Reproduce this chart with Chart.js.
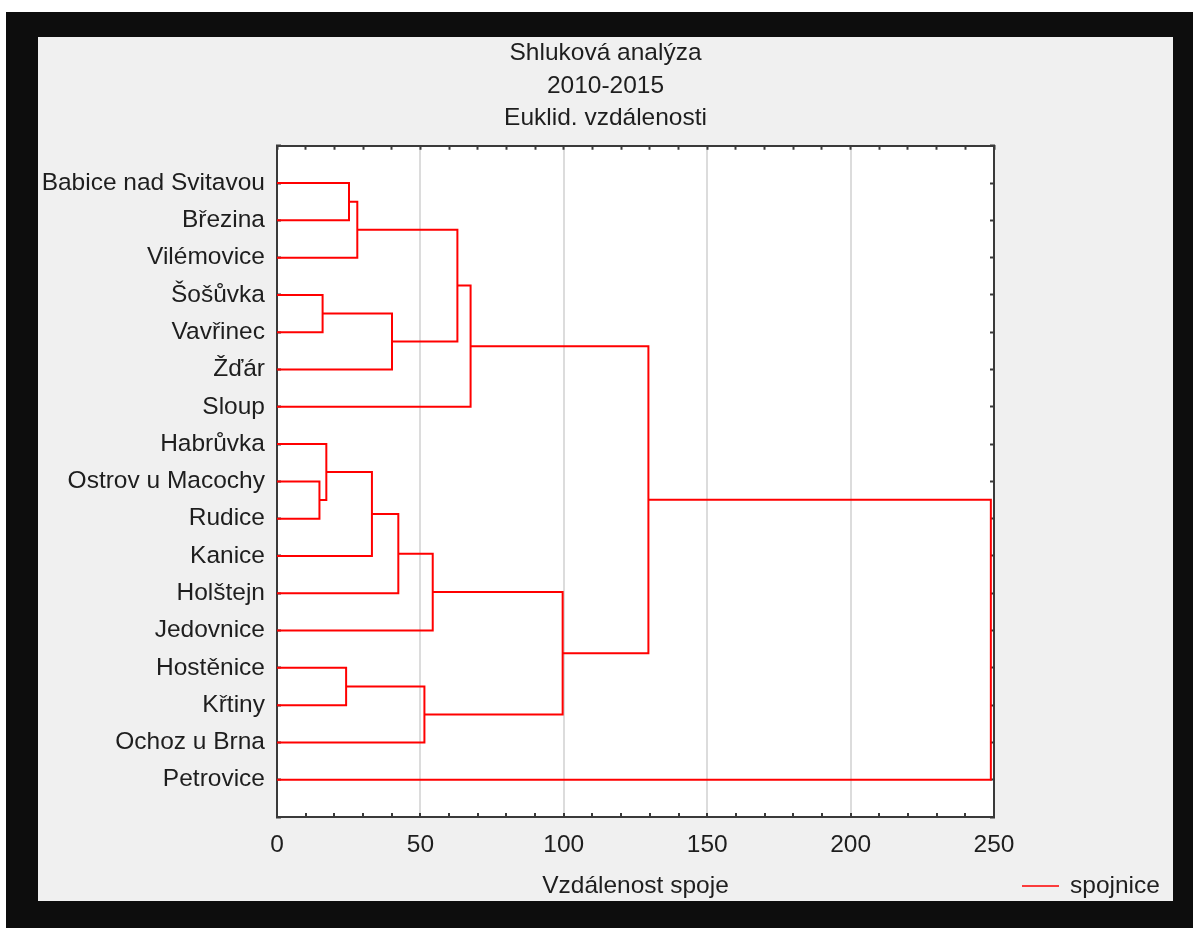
<!DOCTYPE html>
<html>
<head>
    <title>Shluková analýza 2010-2015</title>
    <script src="https://cdn.jsdelivr.net/npm/chart.js@4.4.1/dist/chart.umd.min.js" type="text/javascript"></script>
    <style>
        body {
            margin: 0;
            background-color: white;
            font-family: "Liberation Sans", Arial, sans-serif;
        }
        #frame {
            position: absolute;
            left: 6px;
            top: 12px;
            width: 1187px;
            height: 916px;
            background-color: #0d0d0d;
        }
        #panel {
            position: absolute;
            left: 32px;
            top: 25px;
            width: 1135px;
            height: 864px;
            background-color: #f0f0f0;
        }
    </style>
</head>
<body>
    <div id="frame">
        <div id="panel">
            <canvas id="dendrogram"></canvas>
        </div>
    </div>
<script>
    // leaves, top to bottom, as they stand on the y axis
    const leafNames = ['Babice nad Svitavou', 'Březina', 'Vilémovice', 'Šošůvka', 'Vavřinec', 'Žďár', 'Sloup',
        'Habrůvka', 'Ostrov u Macochy', 'Rudice', 'Kanice', 'Holštejn', 'Jedovnice', 'Hostěnice', 'Křtiny',
        'Ochoz u Brna', 'Petrovice'];
    // merges in order; index < 17 is a leaf, 17 + k is the cluster made by merge k
    const mergeA = [8, 3, 7, 13, 0, 21, 19, 18, 23, 20, 25, 22, 28, 27, 29, 31];
    const mergeB = [9, 4, 17, 14, 1, 2, 10, 5, 11, 15, 12, 24, 6, 26, 30, 16];
    const mergeDist = [14.8, 15.9, 17.2, 24.1, 25.1, 28.0, 33.1, 40.1, 42.3, 51.4, 54.3, 62.9, 67.5, 99.6, 129.5, 248.9];
    const titleLines = ['Shluková analýza', '2010-2015', 'Euklid. vzdálenosti'];
    const xTitle = 'Vzdálenost spoje';
    const xMax = 250;

    const textColor = '#1e1e1e';
    const axisColor = '#3a3a3a';
    const font = {family: "'Liberation Sans', Arial, sans-serif", size: 24.5};

    // build the link lines of the dendrogram
    var nodeY = leafNames.map((name, i) => i + 1);
    var nodeH = leafNames.map(() => 0);
    var links = [];
    for (var k = 0; k < mergeDist.length; k++) {
        var a = mergeA[k], b = mergeB[k], d = mergeDist[k];
        links.push({x: nodeH[a], y: nodeY[a]});
        links.push({x: d, y: nodeY[a]});
        links.push({x: d, y: nodeY[b]});
        links.push({x: nodeH[b], y: nodeY[b]});
        links.push({x: d, y: null});
        nodeY.push((nodeY[a] + nodeY[b]) / 2);
        nodeH.push(d);
    }

    const plotBackground = {
        id: 'plotBackground',
        beforeDraw(chart) {
            const area = chart.chartArea;
            chart.ctx.save();
            chart.ctx.fillStyle = 'white';
            chart.ctx.fillRect(area.left, area.top, area.right - area.left, area.bottom - area.top);
            chart.ctx.restore();
        }
    };

    // legend sits on the same row as the x axis title
    const sideLegend = {
        id: 'sideLegend',
        afterDraw(chart) {
            const ds = chart.data.datasets[0];
            const ctx = chart.ctx;
            const y = chart.scales.x.bottom - 15;
            const x0 = chart.width - 151;
            ctx.save();
            ctx.strokeStyle = ds.borderColor;
            ctx.lineWidth = 1.5;
            ctx.beginPath();
            ctx.moveTo(x0, y);
            ctx.lineTo(x0 + 37, y);
            ctx.stroke();
            ctx.fillStyle = textColor;
            ctx.font = font.size + 'px ' + font.family;
            ctx.textBaseline = 'middle';
            ctx.fillText(ds.label, x0 + 48, y);
            ctx.restore();
        }
    };

    const dctx = document.getElementById('dendrogram');
    const dchart = new Chart(dctx, {
        type: 'scatter',
        data: {
            datasets: [{
                label: 'spojnice',
                data: links,
                showLine: true,
                spanGaps: false,
                borderColor: '#ff0000',
                backgroundColor: '#ff0000',
                borderWidth: 2,
                pointRadius: 0,
                tension: 0,
                borderJoinStyle: 'miter'
            }]
        },
        options: {
            responsive: true,
            maintainAspectRatio: false,
            animation: false,
            layout: {
                padding: 0
            },
            plugins: {
                legend: {display: false},
                tooltip: {enabled: false},
                title: {
                    display: true,
                    text: titleLines,
                    color: textColor,
                    font: {family: font.family, size: font.size, weight: 'normal', lineHeight: 1.33},
                    padding: {top: 0, bottom: 11}
                }
            },
            scales: {
                x: {
                    type: 'linear',
                    position: 'bottom',
                    min: 0,
                    max: xMax,
                    border: {color: axisColor, width: 2},
                    grid: {
                        color: (c) => (c.tick && c.tick.value % 50 === 0) ? '#dcdcdc' : 'transparent',
                        lineWidth: 2,
                        tickColor: axisColor,
                        tickWidth: 2,
                        tickLength: -4
                    },
                    ticks: {
                        stepSize: 10,
                        autoSkip: false,
                        maxRotation: 0,
                        minRotation: 0,
                        padding: 18,
                        color: textColor,
                        font: font,
                        callback: (v) => v % 50 === 0 ? String(v) : ''
                    },
                    title: {
                        display: true,
                        text: xTitle,
                        color: textColor,
                        font: font,
                        padding: {top: 13, bottom: 0}
                    },
                    afterFit: (s) => { s.height = 84; }
                },
                x2: {
                    type: 'linear',
                    position: 'top',
                    min: 0,
                    max: xMax,
                    border: {color: axisColor, width: 2},
                    grid: {drawOnChartArea: false, tickColor: axisColor, tickWidth: 2, tickLength: -4},
                    ticks: {stepSize: 10, autoSkip: false, display: false},
                    afterFit: (s) => { s.height = 0; }
                },
                y: {
                    type: 'linear',
                    position: 'left',
                    min: 0,
                    max: leafNames.length + 1,
                    reverse: true,
                    border: {color: axisColor, width: 2},
                    grid: {color: 'transparent', tickColor: axisColor, tickWidth: 2, tickLength: -4},
                    ticks: {
                        stepSize: 1,
                        autoSkip: false,
                        padding: 16,
                        color: textColor,
                        font: font,
                        callback: (v) => leafNames[Math.round(v) - 1] || ''
                    },
                    afterFit: (s) => { s.width = 239; }
                },
                y2: {
                    type: 'linear',
                    position: 'right',
                    min: 0,
                    max: leafNames.length + 1,
                    reverse: true,
                    border: {color: axisColor, width: 2},
                    grid: {drawOnChartArea: false, tickColor: axisColor, tickWidth: 2, tickLength: -4},
                    ticks: {stepSize: 1, autoSkip: false, display: false},
                    afterFit: (s) => { s.width = 179; }
                }
            }
        },
        plugins: [plotBackground, sideLegend]
    });
</script>
</body>
</html>
